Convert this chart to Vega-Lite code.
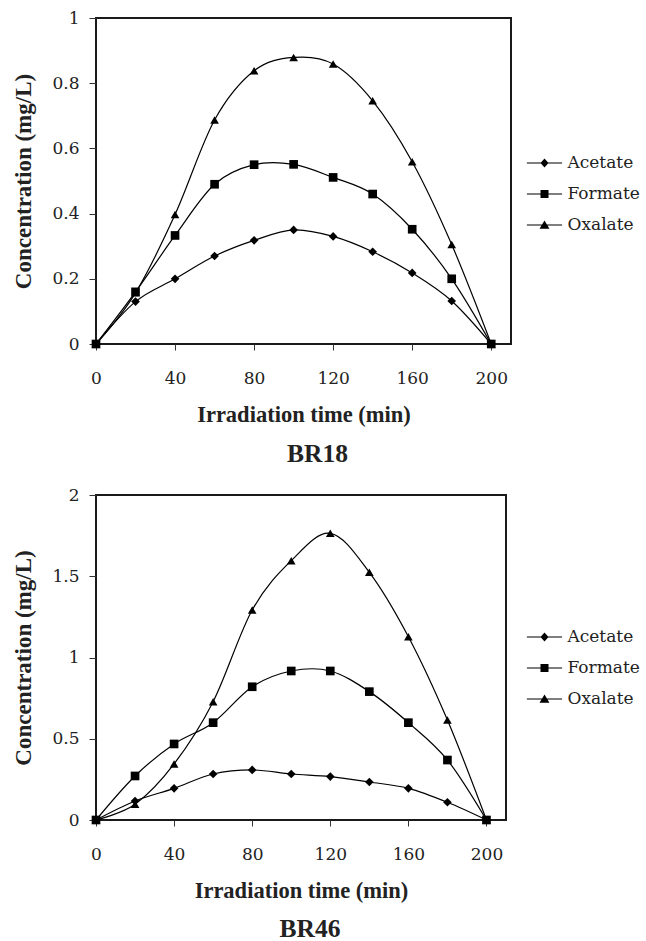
{
  "$schema": "https://vega.github.io/schema/vega-lite/v6.json",
  "background": "white",
  "padding": {"left": 11, "top": 8, "right": 5, "bottom": 0},
  "spacing": 17,
  "datasets": {
    "br18": [
      {"t": 0, "series": "Acetate", "c": 0}, {"t": 20, "series": "Acetate", "c": 0.13}, {"t": 40, "series": "Acetate", "c": 0.2}, {"t": 60, "series": "Acetate", "c": 0.27}, {"t": 80, "series": "Acetate", "c": 0.318}, {"t": 100, "series": "Acetate", "c": 0.35}, {"t": 120, "series": "Acetate", "c": 0.33}, {"t": 140, "series": "Acetate", "c": 0.283}, {"t": 160, "series": "Acetate", "c": 0.218}, {"t": 180, "series": "Acetate", "c": 0.132}, {"t": 200, "series": "Acetate", "c": 0},
      {"t": 0, "series": "Formate", "c": 0}, {"t": 20, "series": "Formate", "c": 0.16}, {"t": 40, "series": "Formate", "c": 0.333}, {"t": 60, "series": "Formate", "c": 0.49}, {"t": 80, "series": "Formate", "c": 0.55}, {"t": 100, "series": "Formate", "c": 0.551}, {"t": 120, "series": "Formate", "c": 0.511}, {"t": 140, "series": "Formate", "c": 0.46}, {"t": 160, "series": "Formate", "c": 0.352}, {"t": 180, "series": "Formate", "c": 0.2}, {"t": 200, "series": "Formate", "c": 0},
      {"t": 0, "series": "Oxalate", "c": 0}, {"t": 20, "series": "Oxalate", "c": 0.157}, {"t": 40, "series": "Oxalate", "c": 0.397}, {"t": 60, "series": "Oxalate", "c": 0.687}, {"t": 80, "series": "Oxalate", "c": 0.838}, {"t": 100, "series": "Oxalate", "c": 0.879}, {"t": 120, "series": "Oxalate", "c": 0.859}, {"t": 140, "series": "Oxalate", "c": 0.746}, {"t": 160, "series": "Oxalate", "c": 0.559}, {"t": 180, "series": "Oxalate", "c": 0.305}, {"t": 200, "series": "Oxalate", "c": 0}
    ],
    "br46": [
      {"t": 0, "series": "Acetate", "c": 0}, {"t": 20, "series": "Acetate", "c": 0.117}, {"t": 40, "series": "Acetate", "c": 0.195}, {"t": 60, "series": "Acetate", "c": 0.283}, {"t": 80, "series": "Acetate", "c": 0.308}, {"t": 100, "series": "Acetate", "c": 0.283}, {"t": 120, "series": "Acetate", "c": 0.267}, {"t": 140, "series": "Acetate", "c": 0.234}, {"t": 160, "series": "Acetate", "c": 0.195}, {"t": 180, "series": "Acetate", "c": 0.109}, {"t": 200, "series": "Acetate", "c": 0},
      {"t": 0, "series": "Formate", "c": 0}, {"t": 20, "series": "Formate", "c": 0.271}, {"t": 40, "series": "Formate", "c": 0.468}, {"t": 60, "series": "Formate", "c": 0.599}, {"t": 80, "series": "Formate", "c": 0.82}, {"t": 100, "series": "Formate", "c": 0.917}, {"t": 120, "series": "Formate", "c": 0.917}, {"t": 140, "series": "Formate", "c": 0.79}, {"t": 160, "series": "Formate", "c": 0.599}, {"t": 180, "series": "Formate", "c": 0.369}, {"t": 200, "series": "Formate", "c": 0},
      {"t": 0, "series": "Oxalate", "c": 0}, {"t": 20, "series": "Oxalate", "c": 0.097}, {"t": 40, "series": "Oxalate", "c": 0.345}, {"t": 60, "series": "Oxalate", "c": 0.728}, {"t": 80, "series": "Oxalate", "c": 1.292}, {"t": 100, "series": "Oxalate", "c": 1.596}, {"t": 120, "series": "Oxalate", "c": 1.764}, {"t": 140, "series": "Oxalate", "c": 1.524}, {"t": 160, "series": "Oxalate", "c": 1.128}, {"t": 180, "series": "Oxalate", "c": 0.615}, {"t": 200, "series": "Oxalate", "c": 0}
    ]
  },
  "vconcat": [
    {
      "width": 415,
      "height": 326,
      "data": {"name": "br18"},
      "title": {"text": "BR18", "orient": "bottom", "anchor": "middle", "dx": 14, "offset": 16},
      "layer": [
        {
          "mark": {"type": "line", "interpolate": "cardinal", "color": "black", "strokeWidth": 1.2},
          "encoding": {
            "x": {"field": "t", "type": "quantitative", "scale": {"domain": [0, 210], "nice": false}, "axis": {"values": [0, 40, 80, 120, 160, 200], "title": "Irradiation time (min)"}},
            "y": {"field": "c", "type": "quantitative", "scale": {"domain": [0, 1], "nice": false}, "axis": {"values": [0, 0.2, 0.4, 0.6, 0.8, 1], "format": "~g", "title": "Concentration (mg/L)"}},
            "detail": {"field": "series"}
          }
        },
        {
          "mark": {"type": "point", "filled": true, "color": "black", "opacity": 1},
          "encoding": {
            "x": {"field": "t", "type": "quantitative"},
            "y": {"field": "c", "type": "quantitative"},
            "shape": {"field": "series", "type": "nominal", "scale": {"domain": ["Acetate", "Formate", "Oxalate"], "range": ["diamond", "square", "triangle-up"]}, "legend": null},
            "size": {"field": "series", "type": "nominal", "scale": {"domain": ["Acetate", "Formate", "Oxalate"], "range": [75, 75, 110]}, "legend": null}
          }
        },
        {
          "mark": {"type": "point", "filled": true, "color": "black", "opacity": 0, "size": 256},
          "encoding": {
            "x": {"field": "t", "type": "quantitative"},
            "y": {"field": "c", "type": "quantitative"},
            "shape": {
              "field": "series", "type": "nominal",
              "scale": {"domain": ["Acetate", "Formate", "Oxalate"], "range": ["M-2.2,-0.07L2.2,-0.07L2.2,0.07L-2.2,0.07ZM0,-0.55L0.5,0L0,0.55L-0.5,0Z", "M-2.2,-0.07L2.2,-0.07L2.2,0.07L-2.2,0.07ZM-0.5,-0.5L0.5,-0.5L0.5,0.5L-0.5,0.5Z", "M-2.2,-0.07L2.2,-0.07L2.2,0.07L-2.2,0.07ZM0,-0.55L0.62,0.48L-0.62,0.48Z"]},
              "legend": {
                "title": null, "orient": "none", "legendX": 439.5, "legendY": 136, "padding": 0,
                "symbolSize": 256, "labelOffset": 14, "rowPadding": 14,
                "encode": {"symbols": {"update": {"fill": {"value": "black"}, "opacity": {"value": 1}}}}
              }
            }
          }
        }
      ],
      "resolve": {"scale": {"shape": "independent"}, "legend": {"shape": "independent"}}
    },
    {
      "width": 410,
      "height": 325,
      "data": {"name": "br46"},
      "title": {"text": "BR46", "orient": "bottom", "anchor": "middle", "dx": 9, "offset": 15},
      "layer": [
        {
          "mark": {"type": "line", "interpolate": "cardinal", "color": "black", "strokeWidth": 1.2},
          "encoding": {
            "x": {"field": "t", "type": "quantitative", "scale": {"domain": [0, 210], "nice": false}, "axis": {"values": [0, 40, 80, 120, 160, 200], "title": "Irradiation time (min)"}},
            "y": {"field": "c", "type": "quantitative", "scale": {"domain": [0, 2], "nice": false}, "axis": {"values": [0, 0.5, 1, 1.5, 2], "format": "~g", "title": "Concentration (mg/L)"}},
            "detail": {"field": "series"}
          }
        },
        {
          "mark": {"type": "point", "filled": true, "color": "black", "opacity": 1},
          "encoding": {
            "x": {"field": "t", "type": "quantitative"},
            "y": {"field": "c", "type": "quantitative"},
            "shape": {"field": "series", "type": "nominal", "scale": {"domain": ["Acetate", "Formate", "Oxalate"], "range": ["diamond", "square", "triangle-up"]}, "legend": null},
            "size": {"field": "series", "type": "nominal", "scale": {"domain": ["Acetate", "Formate", "Oxalate"], "range": [75, 75, 110]}, "legend": null}
          }
        },
        {
          "mark": {"type": "point", "filled": true, "color": "black", "opacity": 0, "size": 256},
          "encoding": {
            "x": {"field": "t", "type": "quantitative"},
            "y": {"field": "c", "type": "quantitative"},
            "shape": {
              "field": "series", "type": "nominal",
              "scale": {"domain": ["Acetate", "Formate", "Oxalate"], "range": ["M-2.2,-0.07L2.2,-0.07L2.2,0.07L-2.2,0.07ZM0,-0.55L0.5,0L0,0.55L-0.5,0Z", "M-2.2,-0.07L2.2,-0.07L2.2,0.07L-2.2,0.07ZM-0.5,-0.5L0.5,-0.5L0.5,0.5L-0.5,0.5Z", "M-2.2,-0.07L2.2,-0.07L2.2,0.07L-2.2,0.07ZM0,-0.55L0.62,0.48L-0.62,0.48Z"]},
              "legend": {
                "title": null, "orient": "none", "legendX": 439.5, "legendY": 133, "padding": 0,
                "symbolSize": 256, "labelOffset": 14, "rowPadding": 14,
                "encode": {"symbols": {"update": {"fill": {"value": "black"}, "opacity": {"value": 1}}}}
              }
            }
          }
        }
      ],
      "resolve": {"scale": {"shape": "independent"}, "legend": {"shape": "independent"}}
    }
  ],
  "resolve": {"scale": {"x": "independent", "y": "independent", "shape": "independent"}, "legend": {"shape": "independent"}},
  "config": {
    "view": {"stroke": "#1a1a1a", "strokeWidth": 2},
    "axis": {
      "grid": false, "domain": false,
      "tickColor": "#333", "tickWidth": 1,
      "labelFont": "DejaVu Serif", "labelFontSize": 17, "labelColor": "#222",
      "titleFont": "Liberation Serif", "titleFontWeight": "bold", "titleColor": "#222"
    },
    "axisX": {"tickSize": 6, "labelPadding": 20, "titlePadding": 17, "labelFlush": false, "titleFontSize": 22.5},
    "axisY": {"tickSize": 7, "labelPadding": 10, "titlePadding": 16, "titleFontSize": 23},
    "legend": {"labelFont": "DejaVu Serif", "labelFontSize": 17, "labelColor": "#222"},
    "title": {"font": "Liberation Serif", "fontSize": 25.5, "fontWeight": "bold", "color": "#222"}
  }
}
